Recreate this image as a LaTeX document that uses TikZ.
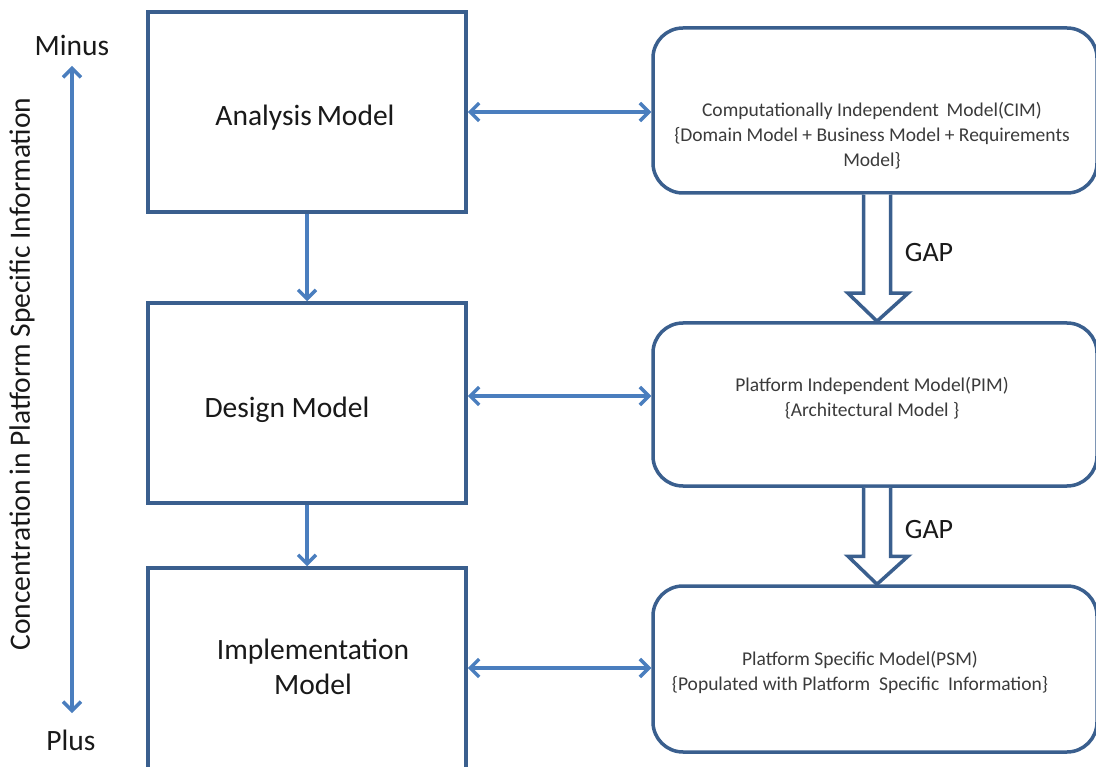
\documentclass[tikz,border=0pt]{standalone}
\usepackage{fontspec}
\setmainfont{Carlito}
\usetikzlibrary{arrows.meta,calc}
\definecolor{boxblue}{RGB}{58,95,142}
\definecolor{arrowblue}{RGB}{74,126,190}
\definecolor{txt}{RGB}{25,25,25}
\begin{document}
\begin{tikzpicture}[x=1pt,y=-1pt,
  bigtext/.style={font=\fontsize{29.5}{35}\selectfont, text=txt, align=center, inner sep=0pt},
  smalltext/.style={font=\fontsize{19.5}{25}\selectfont, text=txt!85!white, align=center, inner sep=0pt},
  sqbox/.style={draw=boxblue, line width=3.5pt, fill=white, minimum width=318pt, inner sep=0pt},
  rndbox/.style={draw=boxblue, line width=3.5pt, fill=white, rounded corners=30pt, minimum width=444pt, inner sep=0pt},
  conn/.style={draw=arrowblue, line width=4pt, {Straight Barb[length=9pt,width=18pt,line width=3.5pt]}-{Straight Barb[length=9pt,width=18pt,line width=3.5pt]}},
  down/.style={draw=arrowblue, line width=3.5pt, -{Straight Barb[length=9pt,width=18pt,line width=3.5pt]}},
  blockarrow/.style={draw=boxblue, line width=3.5pt, fill=white, line join=miter}
]
\useasboundingbox (0,0) rectangle (1096,767);

% left boxes
\node[sqbox, minimum height=200pt] (ana) at (307,112) {};
\node[sqbox, minimum height=200pt] (des) at (307,403) {};
\node[sqbox, minimum height=232pt] (imp) at (307,684) {};
\node[bigtext] (anat) at (305,118) {Analysis\,Model};
\node[bigtext] (dest) at (287,410) {Design Model};
\node[bigtext] (impt) at (313,667) {Implementation\\Model};

% right rounded boxes
\node[rndbox, minimum height=165pt] (cim) at (875,110.5) {};
\node[rndbox, minimum height=163pt] (pim) at (875,404.5) {};
\node[rndbox, minimum height=166pt] (psm) at (875,669) {};
\node[smalltext] (cimt) at (872,136) {Computationally Independent\ \,Model(CIM)\\\{Domain Model + Business Model + Requirements\\Model\}};
\node[smalltext] (pimt) at (872,398) {Platform Independent Model(PIM)\\\{Architectural Model \}};
\node[smalltext] (psmt) at (860,672) {Platform Specific Model(PSM)\\\{Populated with Platform\ \ Specific\ \ Information\}};

% horizontal double arrows
\draw[conn] (ana.east) -- (ana.east -| cim.west);
\draw[conn] ([yshift=7pt]des.east) -- ([yshift=7pt]des.east -| pim.west);
\draw[conn] ([yshift=16pt]imp.east) -- ([yshift=16pt]imp.east -| psm.west);

% vertical arrows between left boxes
\draw[down] (ana.south) -- (des.north);
\draw[down] (des.south) -- (imp.north);

% block arrows (GAP)
\coordinate (gx) at (877,0);
\coordinate (g1a) at (cim.south -| gx);
\coordinate (g1b) at (pim.north -| gx);
\coordinate (g2a) at (pim.south -| gx);
\coordinate (g2b) at (psm.north -| gx);
\draw[blockarrow] ($(g1a)+(-13.5,0)$) -- ($(g1b)+(-13.5,-28)$) -- ($(g1b)+(-29,-28)$) -- (g1b) -- ($(g1b)+(31,-28)$) -- ($(g1b)+(13.5,-28)$) -- ($(g1a)+(13.5,0)$);
\draw[blockarrow] ($(g2a)+(-13.5,0)$) -- ($(g2b)+(-13.5,-28)$) -- ($(g2b)+(-29,-28)$) -- (g2b) -- ($(g2b)+(31,-28)$) -- ($(g2b)+(13.5,-28)$) -- ($(g2a)+(13.5,0)$);
\node[font=\fontsize{28}{34}\selectfont, text=txt, inner sep=0pt] (gap1) at (929,253) {GAP};
\node[font=\fontsize{28}{34}\selectfont, text=txt, inner sep=0pt] (gap2) at (929,530) {GAP};

% left scale
\node[bigtext] (minus) at (72,45) {Minus};
\node[bigtext] (plus) at (71,740) {Plus};
\coordinate (st) at (72,66);
\coordinate (sb) at (72,713);
\draw[conn] (st) -- (sb);
\node[bigtext, rotate=90] (conc) at (22,374) {Concentration\,in Platform Specific Information};
\end{tikzpicture}
\end{document}
